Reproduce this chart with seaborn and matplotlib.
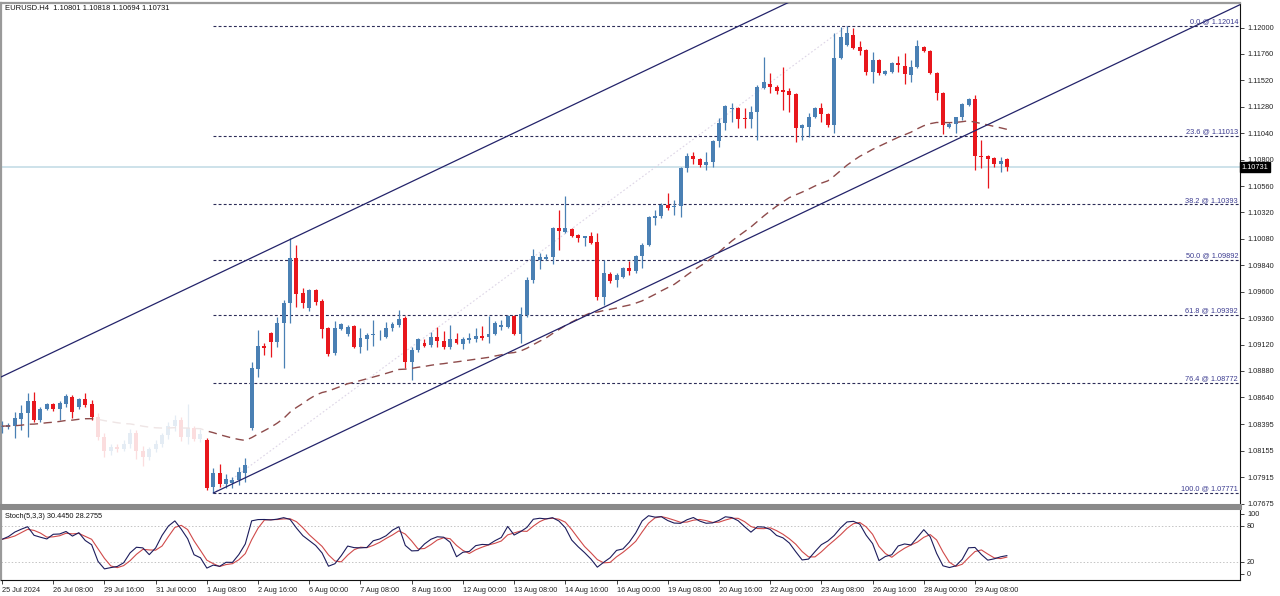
import numpy as np
import pandas as pd
import matplotlib
matplotlib.use("Agg")
import matplotlib.pyplot as plt
import matplotlib.transforms as mtransforms
from matplotlib.patches import Rectangle
import seaborn as sns

# ---------------- data (EURUSD H4) ----------------
opens = [1.08370, 1.08370, 1.08379, 1.08443, 1.08498, 1.08607, 1.08434, 1.08534, 1.08580, 1.08534,
         1.08580, 1.08643, 1.08552, 1.08625, 1.08580, 1.0846, 1.0828, 1.0815, 1.0819, 1.0817,
         1.0822, 1.0832, 1.0815, 1.0810, 1.0817, 1.0822, 1.0830, 1.0838, 1.0843, 1.0828,
         1.0836, 1.0826, 1.08252, 1.07825, 1.07953, 1.07852, 1.07862, 1.07889, 1.07953, 1.08361,
         1.08897, 1.09106, 1.09225, 1.09143, 1.09316, 1.09497, 1.09906, 1.09588, 1.09451, 1.09615,
         1.09515, 1.09270, 1.09043, 1.09261, 1.09215, 1.09288, 1.09097, 1.09170, 1.09206, 1.09215,
         1.09188, 1.09270, 1.09297, 1.09361, 1.08961, 1.09070, 1.09134, 1.09115, 1.09188, 1.09152,
         1.09097, 1.09170, 1.09125, 1.09161, 1.09170, 1.09197, 1.09188, 1.09215, 1.09279, 1.09279,
         1.09379, 1.09215, 1.09388, 1.09706, 1.09888, 1.09897, 1.09915, 1.10179, 1.10142, 1.10170,
         1.10115, 1.10087, 1.10106, 1.10051, 1.09552, 1.09761, 1.09706, 1.09733, 1.09815, 1.09788,
         1.09924, 1.10024, 1.10270, 1.10288, 1.10388, 1.10370, 1.10379, 1.10724, 1.10833, 1.10805,
         1.10751, 1.10778, 1.10969, 1.11133, 1.11260, 1.11269, 1.11178, 1.11169, 1.11233, 1.11451,
         1.11487, 1.11460, 1.11432, 1.11423, 1.11396, 1.11087, 1.11096, 1.11187, 1.11269, 1.11214,
         1.11114, 1.11723, 1.11841, 1.11932, 1.11823, 1.11796, 1.11596, 1.11705, 1.11578, 1.11596,
         1.11678, 1.11651, 1.11569, 1.11641, 1.11823, 1.11787, 1.11587, 1.11405, 1.11096, 1.11123,
         1.11187, 1.11296, 1.11351, 1.10833, 1.10833, 1.10815, 1.10760, 1.10801]
highs = [1.08425, 1.08407, 1.08507, 1.08571, 1.08680, 1.08689, 1.08552, 1.08589, 1.08589, 1.08607,
         1.08670, 1.08661, 1.08634, 1.08680, 1.08616, 1.0850, 1.0832, 1.0822, 1.0822, 1.0825,
         1.0835, 1.0834, 1.0820, 1.0819, 1.0825, 1.0832, 1.0842, 1.0848, 1.0846, 1.0858,
         1.0838, 1.0835, 1.08270, 1.07998, 1.08035, 1.07944, 1.07916, 1.08007, 1.08089, 1.08961,
         1.09252, 1.09134, 1.09234, 1.09370, 1.09524, 1.10088, 1.10024, 1.09633, 1.09624, 1.09624,
         1.09533, 1.09279, 1.09334, 1.09316, 1.09297, 1.09297, 1.09270, 1.09225, 1.09343, 1.09252,
         1.09325, 1.09325, 1.09433, 1.09379, 1.09097, 1.09179, 1.09170, 1.09234, 1.09279, 1.09243,
         1.09297, 1.09225, 1.09188, 1.09225, 1.09270, 1.09288, 1.09379, 1.09334, 1.09343, 1.09388,
         1.09388, 1.09461, 1.09733, 1.09988, 1.09952, 1.09943, 1.10188, 1.10342, 1.10469, 1.10179,
         1.10124, 1.10106, 1.10142, 1.10133, 1.09888, 1.09779, 1.09770, 1.09824, 1.09879, 1.09933,
         1.10042, 1.10288, 1.10342, 1.10406, 1.10497, 1.10433, 1.10733, 1.10860, 1.10869, 1.10815,
         1.10869, 1.10978, 1.11178, 1.11296, 1.11314, 1.11278, 1.11269, 1.11287, 1.11478, 1.11732,
         1.11587, 1.11478, 1.11641, 1.11451, 1.11405, 1.11123, 1.11223, 1.11278, 1.11314, 1.11223,
         1.11950, 1.12005, 1.12014, 1.11996, 1.11878, 1.11805, 1.11778, 1.11714, 1.11614, 1.11687,
         1.11741, 1.11769, 1.11705, 1.11887, 1.11832, 1.11796, 1.11596, 1.11414, 1.11142, 1.11187,
         1.11314, 1.11360, 1.11387, 1.10978, 1.10842, 1.10824, 1.10824, 1.10818]
lows = [1.08316, 1.08352, 1.08270, 1.08343, 1.08279, 1.08416, 1.08416, 1.08525, 1.08516, 1.08434,
        1.08552, 1.08452, 1.08534, 1.08552, 1.08434, 1.0825, 1.0810, 1.0812, 1.0814, 1.0815,
        1.0818, 1.0808, 1.0802, 1.0807, 1.0814, 1.0819, 1.0826, 1.0833, 1.0824, 1.0822,
        1.0824, 1.0823, 1.07798, 1.07771, 1.07825, 1.07816, 1.07816, 1.07844, 1.07871, 1.08343,
        1.08825, 1.09025, 1.09007, 1.09097, 1.08906, 1.09316, 1.09460, 1.09451, 1.09424, 1.09479,
        1.09179, 1.09016, 1.09025, 1.09252, 1.09197, 1.09088, 1.09043, 1.09070, 1.09106, 1.09161,
        1.09179, 1.09243, 1.09279, 1.08906, 1.08797, 1.09052, 1.09097, 1.09097, 1.09097, 1.09079,
        1.09079, 1.09125, 1.09079, 1.09134, 1.09143, 1.09161, 1.09134, 1.09206, 1.09252, 1.09270,
        1.09206, 1.09134, 1.09370, 1.09679, 1.09806, 1.09888, 1.09852, 1.09979, 1.10133, 1.10097,
        1.10051, 1.10015, 1.10033, 1.09524, 1.09479, 1.09679, 1.09643, 1.09724, 1.09752, 1.09770,
        1.09815, 1.10015, 1.10206, 1.10270, 1.10342, 1.10297, 1.10279, 1.10688, 1.10760, 1.10733,
        1.10705, 1.10733, 1.10914, 1.11069, 1.11142, 1.11087, 1.11087, 1.11087, 1.10978, 1.11442,
        1.11405, 1.11396, 1.11251, 1.11232, 1.10960, 1.10978, 1.11005, 1.11178, 1.11142, 1.11096,
        1.11042, 1.11714, 1.11832, 1.11805, 1.11750, 1.11569, 1.11496, 1.11569, 1.11569, 1.11587,
        1.11596, 1.11487, 1.11505, 1.11632, 1.11778, 1.11578, 1.11341, 1.11032, 1.11087, 1.11042,
        1.11160, 1.11287, 1.10705, 1.10724, 1.10542, 1.10733, 1.10688, 1.10694]
closes = [1.08379, 1.08389, 1.08452, 1.08498, 1.08607, 1.08434, 1.08534, 1.08580, 1.08534, 1.08589,
          1.08652, 1.08507, 1.08625, 1.08571, 1.08461, 1.0828, 1.0815, 1.0819, 1.0817, 1.0822,
          1.0832, 1.0815, 1.0810, 1.0817, 1.0822, 1.0830, 1.0838, 1.0843, 1.0828, 1.0836,
          1.0826, 1.0831, 1.07816, 1.07953, 1.07852, 1.07898, 1.07889, 1.07962, 1.08025, 1.08906,
          1.09106, 1.09088, 1.09143, 1.09316, 1.09497, 1.09906, 1.09579, 1.09497, 1.09615, 1.09506,
          1.09261, 1.09034, 1.09270, 1.09306, 1.09279, 1.09097, 1.09179, 1.09206, 1.09215, 1.09218,
          1.09270, 1.09306, 1.09352, 1.08961, 1.09070, 1.09170, 1.09106, 1.09188, 1.09152, 1.09097,
          1.09170, 1.09134, 1.09170, 1.09179, 1.09197, 1.09179, 1.09215, 1.09316, 1.09297, 1.09379,
          1.09215, 1.09397, 1.09706, 1.09924, 1.09915, 1.09915, 1.10179, 1.10151, 1.10179, 1.10106,
          1.10087, 1.10106, 1.10042, 1.09552, 1.09770, 1.09697, 1.09752, 1.09815, 1.09788, 1.09924,
          1.10024, 1.10279, 1.10288, 1.10388, 1.10361, 1.10379, 1.10724, 1.10833, 1.10805, 1.10751,
          1.10778, 1.10969, 1.11133, 1.11287, 1.11269, 1.11169, 1.11169, 1.11233, 1.11460, 1.11505,
          1.11460, 1.11423, 1.11414, 1.11387, 1.11087, 1.11114, 1.11187, 1.11269, 1.11214, 1.11114,
          1.11723, 1.11914, 1.11950, 1.11814, 1.11787, 1.11596, 1.11705, 1.11587, 1.11605, 1.11678,
          1.11660, 1.11578, 1.11641, 1.11832, 1.11787, 1.11587, 1.11405, 1.11114, 1.11123, 1.11187,
          1.11305, 1.11351, 1.10833, 1.10824, 1.10805, 1.10760, 1.10787, 1.10731]

x_tick_labels = ["25 Jul 2024", "26 Jul 08:00", "29 Jul 16:00", "31 Jul 00:00", "1 Aug 08:00",
                 "2 Aug 16:00", "6 Aug 00:00", "7 Aug 08:00", "8 Aug 16:00", "12 Aug 00:00",
                 "13 Aug 08:00", "14 Aug 16:00", "16 Aug 00:00", "19 Aug 08:00", "20 Aug 16:00",
                 "22 Aug 00:00", "23 Aug 08:00", "26 Aug 16:00", "28 Aug 00:00", "29 Aug 08:00"]
price_ticks = [1.12000, 1.11760, 1.11520, 1.11280, 1.11040, 1.10800, 1.10560, 1.10320, 1.10080,
               1.09840, 1.09600, 1.09360, 1.09120, 1.08880, 1.08640, 1.08395, 1.08155, 1.07915,
               1.07675]
fib_pcts = ["0.0", "23.6", "38.2", "50.0", "61.8", "76.4", "100.0"]
fib_prices = [1.12014, 1.11013, 1.10393, 1.09892, 1.09392, 1.08772, 1.07771]
fib_start_bar = 33
fib_top_bar = 132
channel_low = (33, 1.07771)
channel_high = (45.5, 1.10088)
channel_slope = 0.0002766      # price per bar
last_price = 1.10731
header = "EURUSD.H4  1.10801 1.10818 1.10694 1.10731"
stoch_title = "Stoch(5,3,3) 30.4450 28.2755"

# ---------------- frame ----------------
df = pd.DataFrame({"open": opens, "high": highs, "low": lows, "close": closes})
df["bar"] = np.arange(len(df))

# indicators
df["ma"] = df["close"].ewm(span=50, adjust=False).mean()
ll = df["low"].rolling(5, min_periods=1).min()
hh = df["high"].rolling(5, min_periods=1).max()
num = (df["close"] - ll).rolling(3, min_periods=1).sum()
den = (hh - ll).rolling(3, min_periods=1).sum()
df["k"] = 100 * num / den
df["d"] = df["k"].rolling(3, min_periods=1).mean()

sns.set_theme(style="white")
plt.rcParams["font.family"] = ["Liberation Sans", "DejaVu Sans"]

W, H = 1280, 596
fig = plt.figure(figsize=(W / 100, H / 100), dpi=100)
fig.patch.set_facecolor("white")
ax = fig.add_axes([1 / W, 1 - 505 / H, 1239 / W, 502 / H])
ax2 = fig.add_axes([1 / W, 1 - 580 / H, 1239 / W, 72 / H], sharex=ax)

BULL = "#4a80b4"
BEAR = "#e8161c"
NAVY = "#23236a"
FS = 5.3

xmin, xmax = -0.16, 193.4
ymin, ymax = 1.076619, 1.122229

# current price line
ax.axhline(last_price, color="#cde2ea", lw=1.4, zorder=1)

# fib levels
for pct, lvl in zip(fib_pcts, fib_prices):
    ax.plot([fib_start_bar, xmax], [lvl, lvl], color="#2c2c58", lw=0.8,
            linestyle=(0, (2.6, 2.0)), zorder=2)
    ax.text(xmax - 0.3, lvl + 0.00004, f"{pct} @ {lvl:.5f}", ha="right", va="bottom",
            fontsize=FS, color="#3c3c90", zorder=6)
# fib trend line (faint)
ax.plot([fib_start_bar, fib_top_bar], [fib_prices[-1], fib_prices[0]], color="#ddd5e6",
        lw=0.8, linestyle=(0, (1.5, 2.0)), zorder=1)

# channel lines
xs = np.array([channel_low[0], xmax])
ax.plot(xs, channel_low[1] + channel_slope * (xs - channel_low[0]), color=NAVY, lw=0.9, zorder=4)
xs2 = np.array([xmin, xmax])
ax.plot(xs2, channel_high[1] + channel_slope * (xs2 - channel_high[0]), color=NAVY, lw=0.9, zorder=4)

# candles
up = df["close"] >= df["open"]
cols = np.where(up, BULL, BEAR)
ax.vlines(df["bar"], df["low"], df["high"], colors=cols, lw=0.9, zorder=3)
body_lo = np.minimum(df["open"], df["close"])
body_h = np.maximum(np.abs(df["close"] - df["open"]), 0.00002)
ax.bar(df["bar"], body_h, bottom=body_lo, width=0.62, color=cols, linewidth=0, zorder=3)

# moving average (dashed)
ax.plot(df["bar"], df["ma"], color="#8e4b4b", lw=1.0, linestyle=(0, (6, 4)), zorder=3)

# faded (washed-out) area of the original screenshot
ax.add_patch(Rectangle((14.6, 1.0770), 16.9, 0.0105, facecolor="white", edgecolor="none",
                       alpha=0.86, zorder=5))

ax.set_xlim(xmin, xmax)
ax.set_ylim(ymin, ymax)
ax.yaxis.tick_right()
ax.set_yticks(price_ticks)
ax.set_yticklabels([f"{t:.5f}" for t in price_ticks])
ax.tick_params(axis="y", direction="out", length=3, width=0.6, pad=2, labelsize=FS,
               colors="#222222", right=True, left=False)
ax.tick_params(axis="x", bottom=False, labelbottom=False)
ax.set_xlabel("")
ax.set_ylabel("")
for side in ["left", "top"]:
    ax.spines[side].set_color("#9a9a9a")
    ax.spines[side].set_linewidth(1.6)
ax.spines["right"].set_color("#111111")
ax.spines["right"].set_linewidth(0.8)
ax.spines["bottom"].set_color("#8a8a8a")
ax.spines["bottom"].set_linewidth(2.2)

# price tag
trans = mtransforms.blended_transform_factory(ax.transAxes, ax.transData)
ax.text(1.0012, last_price, f"{last_price:.5f}", transform=trans, ha="left", va="center",
        fontsize=FS, color="white", zorder=10, clip_on=False,
        bbox=dict(boxstyle="square,pad=0.18", fc="black", ec="black"))

# header
fig.text(5 / W, 1 - 9 / H, header, fontsize=5.5, color="#111111", ha="left", va="center")

# ---------------- stochastic panel ----------------
ax2.axhline(80, color="#c4c4c4", lw=0.7, linestyle=(0, (1.5, 2)))
ax2.axhline(20, color="#c4c4c4", lw=0.7, linestyle=(0, (1.5, 2)))
sns.lineplot(x=df["bar"], y=df["d"], ax=ax2, color="#d04a4a", lw=0.8, legend=False)
sns.lineplot(x=df["bar"], y=df["k"], ax=ax2, color="#1c1c5c", lw=0.8, legend=False)
ax2.set_ylim(-10, 110)
ax2.set_xlim(xmin, xmax)
ax2.yaxis.tick_right()
ax2.set_yticks([0, 20, 80, 100])
ax2.set_yticklabels(["0", "20", "80", "100"])
ax2.tick_params(axis="y", direction="out", length=3, width=0.6, pad=2, labelsize=FS,
                colors="#222222", right=True, left=False)
xt = list(range(0, 8 * len(x_tick_labels), 8))
ax2.set_xticks(xt)
ax2.set_xticklabels(x_tick_labels, ha="left")
ax2.tick_params(axis="x", direction="out", length=3, width=0.6, pad=2, labelsize=FS,
                colors="#222222", bottom=True)
ax2.set_xlabel("")
ax2.set_ylabel("")
ax2.spines["top"].set_color("#8a8a8a")
ax2.spines["top"].set_linewidth(2.2)
ax2.spines["left"].set_color("#9a9a9a")
ax2.spines["left"].set_linewidth(1.6)
ax2.spines["right"].set_color("#111111")
ax2.spines["right"].set_linewidth(0.8)
ax2.spines["bottom"].set_color("#111111")
ax2.spines["bottom"].set_linewidth(0.8)
ax2.text(0.003, 0.93, stoch_title, transform=ax2.transAxes, fontsize=FS, color="#111111",
         ha="left", va="top")

fig.savefig("out.png", dpi=100, facecolor="white")
